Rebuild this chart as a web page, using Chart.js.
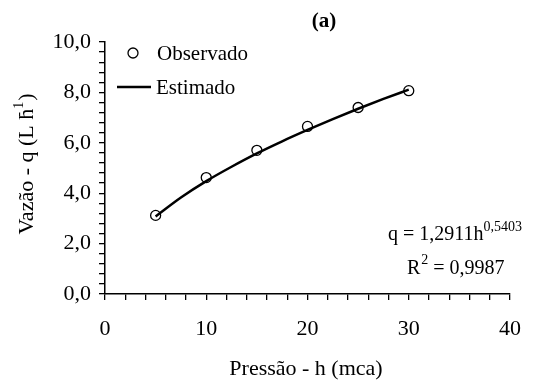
<!DOCTYPE html>
<html>
<head>
<meta charset="utf-8">
<script src="https://cdn.jsdelivr.net/npm/chart.js@4/dist/chart.umd.min.js"></script>
<style>
  html, body { margin: 0; padding: 0; background: #fff; }
  #wrap { width: 541px; height: 383px; }
</style>
</head>
<body>
<div id="wrap"><canvas id="cv1" width="541" height="383"></canvas></div>
<script>
// vazao x pressao, gotejador (a)
const obsH = [5, 10, 15, 20, 25, 30];
const obsQ = [3.12, 4.62, 5.7, 6.65, 7.4, 8.07];

// curva ajustada q = 1,2911 h^0,5403
const estH = [5, 7.5, 10, 12.5, 15, 17.5, 20, 22.5, 25, 27.5, 30];
const estQ = [3.08, 3.83, 4.48, 5.05, 5.58, 6.06, 6.51, 6.94, 7.35, 7.74, 8.11];

const xTicks = [0, 10, 20, 30, 40];
const yTicks = ['0,0', '2,0', '4,0', '6,0', '8,0', '10,0'];

const FONT = '"Liberation Serif", "Times New Roman", serif';

// textos fora do grafico (titulos, legenda, equacao)
const extraText = {
  id: 'extraText',
  afterDraw(chart) {
    const ctx = chart.ctx;
    ctx.save();
    ctx.fillStyle = '#000';
    ctx.strokeStyle = '#000';

    // (a)
    ctx.font = 'bold 21px ' + FONT;
    ctx.textAlign = 'center';
    ctx.textBaseline = 'middle';
    ctx.fillText('(a)', 324, 22);

    // titulo eixo x
    ctx.font = '22px ' + FONT;
    ctx.fillText('Pressão - h (mca)', 306, 369);

    // titulo eixo y (rotacionado, com expoente)
    ctx.save();
    ctx.translate(26, 164);
    ctx.rotate(-Math.PI / 2);
    ctx.textAlign = 'left';
    ctx.textBaseline = 'alphabetic';
    const t1 = 'Vazão - q (L h';
    const t3 = ')';
    ctx.font = '22px ' + FONT;
    const w1 = ctx.measureText(t1).width;
    ctx.font = '14px ' + FONT;
    const w2 = ctx.measureText('1').width + 1;
    ctx.font = '22px ' + FONT;
    const w3 = ctx.measureText(t3).width;
    let x0 = -(w1 + w2 + w3) / 2;
    ctx.fillText(t1, x0, 7);
    ctx.font = '14px ' + FONT;
    ctx.fillText('1', x0 + w1, -3);
    ctx.fillText('-', x0 + w1 - 8, -3);
    ctx.font = '22px ' + FONT;
    ctx.fillText(t3, x0 + w1 + w2, 7);
    ctx.restore();

    // legenda
    ctx.lineWidth = 1.3;
    ctx.beginPath();
    ctx.arc(133, 53, 5, 0, Math.PI * 2);
    ctx.stroke();
    ctx.lineWidth = 2.5;
    ctx.beginPath();
    ctx.moveTo(117, 87);
    ctx.lineTo(151, 87);
    ctx.stroke();
    ctx.font = '21px ' + FONT;
    ctx.textAlign = 'left';
    ctx.textBaseline = 'middle';
    ctx.fillText('Observado', 157, 54);
    ctx.fillText('Estimado', 156, 88);

    // equacao e R2
    ctx.textBaseline = 'alphabetic';
    ctx.font = '20px ' + FONT;
    const e1 = 'q = 1,2911h';
    ctx.fillText(e1, 388, 240);
    const we = ctx.measureText(e1).width;
    ctx.font = '14px ' + FONT;
    ctx.fillText('0,5403', 388 + we, 231);
    ctx.font = '20px ' + FONT;
    ctx.fillText('R', 407, 274);
    const wr = ctx.measureText('R').width;
    ctx.font = '14px ' + FONT;
    ctx.fillText('2', 407 + wr + 1, 264);
    ctx.font = '20px ' + FONT;
    ctx.fillText(' = 0,9987', 407 + wr + 8, 274);

    ctx.restore();
  }
};

const ctx = document.getElementById('cv1').getContext('2d');
new Chart(ctx, {
  type: 'scatter',
  data: {
    datasets: [
      {
        label: 'Observado',
        data: obsH.map((h, i) => ({ x: h, y: obsQ[i] })),
        showLine: false,
        pointStyle: 'circle',
        pointRadius: 5,
        pointBorderWidth: 1.3,
        pointBorderColor: '#000',
        pointBackgroundColor: 'rgba(0,0,0,0)',
        order: 1
      },
      {
        label: 'Estimado',
        data: estH.map((h, i) => ({ x: h, y: estQ[i] })),
        showLine: true,
        borderColor: '#000',
        borderWidth: 2.5,
        pointRadius: 0,
        cubicInterpolationMode: 'monotone',
        order: 2
      }
    ]
  },
  options: {
    responsive: false,
    animation: false,
    layout: { padding: { top: 42, right: 31, left: 0, bottom: 0 } },
    plugins: { legend: { display: false }, tooltip: { enabled: false } },
    scales: {
      x: {
        type: 'linear',
        min: 0, max: 40,
        afterFit(s) { s.height = 89; },
        border: { color: '#000', width: 1.5 },
        grid: { drawOnChartArea: false, drawTicks: true, tickLength: 6, color: '#000', lineWidth: 1.3 },
        ticks: {
          stepSize: 2,
          autoSkip: false,
          maxRotation: 0,
          padding: 16,
          color: '#000',
          font: { family: FONT, size: 22 },
          callback: v => {
            const i = xTicks.indexOf(Math.round(v));
            return (i >= 0 && Math.abs(v - xTicks[i]) < 1e-6) ? String(xTicks[i]) : '';
          }
        }
      },
      y: {
        min: 0, max: 10,
        afterFit(s) { s.width = 105; },
        border: { color: '#000', width: 1.5 },
        grid: { drawOnChartArea: false, drawTicks: true, tickLength: 6, color: '#000', lineWidth: 1.3 },
        ticks: {
          stepSize: 0.4,
          autoSkip: false,
          padding: 8,
          color: '#000',
          font: { family: FONT, size: 22 },
          callback: v => {
            const k = v / 2;
            return Math.abs(k - Math.round(k)) < 1e-6 ? yTicks[Math.round(k)] : '';
          }
        }
      }
    }
  },
  plugins: [extraText]
});
</script>
</body>
</html>
